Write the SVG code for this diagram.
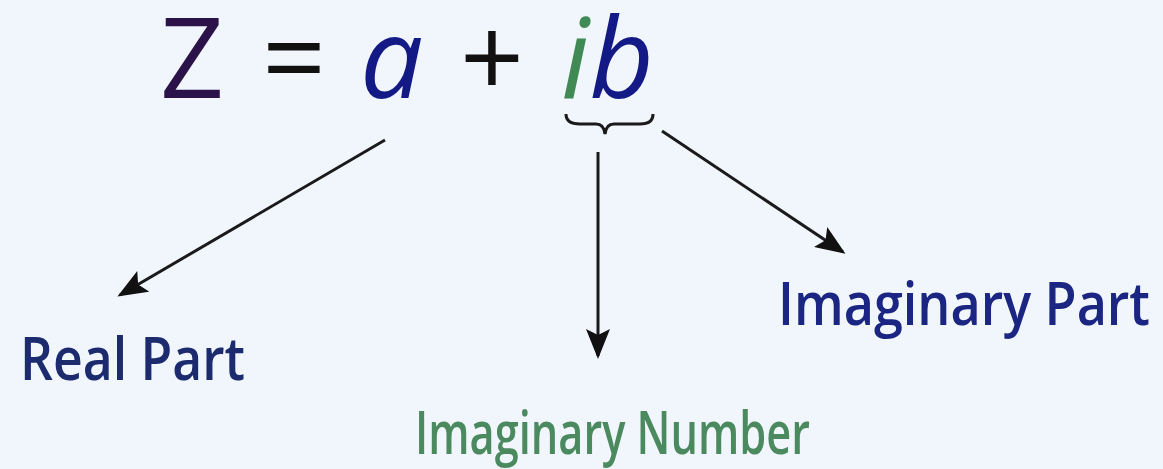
<svg xmlns="http://www.w3.org/2000/svg" width="1163" height="469" viewBox="0 0 1163 469">
<style>
.t{font-family:"Open Sans","Noto Sans",sans-serif}
.big{font-size:112px;font-weight:500}
.it{font-style:italic}
.lbl{font-size:60px;font-weight:600}
.ln{stroke:#1a1a1a;stroke-width:3;fill:none}
</style>
<defs>
<marker id="ahb" viewBox="0 0 10 10" refX="9" refY="5" markerWidth="30" markerHeight="24" markerUnits="userSpaceOnUse" orient="auto" preserveAspectRatio="none">
<path d="M0,0 L10,5 L0,10 L2,5 Z" fill="#111"/>
</marker>
</defs>
<rect width="1163" height="469" fill="#f1f6fc"/>
<g id="equation">
<text class="t big" x="160" y="98" fill="#2b1248">Z</text>
<text class="t big" x="262" y="98" fill="#111">=</text>
<text class="t big it" x="360" y="98" fill="#131a86">a</text>
<text class="t big" x="460" y="98" fill="#111">+</text>
<text class="t big it" x="561" y="98"><tspan fill="#3f8a55">i</tspan><tspan fill="#131a86">b</tspan></text>
</g>
<g id="brace">
<path class="ln" stroke-width="4" d="M566,114 Q566,124 580,124 L596,124 Q604,124 605,134 Q606,124 614,124 L640,124 Q653,124 653,114"/>
</g>
<g id="connectors">
<line class="ln" x1="385" y1="140" x2="120" y2="295" marker-end="url(#ahb)"/>
<line class="ln" x1="598" y1="152" x2="598" y2="356" marker-end="url(#ahb)"/>
<line class="ln" x1="662" y1="131" x2="843" y2="252" marker-end="url(#ahb)"/>
</g>
<g id="real-part">
<text class="t lbl" x="20" y="380" fill="#1c2a6e" textLength="225" lengthAdjust="spacingAndGlyphs">Real Part</text>
</g>
<g id="imaginary-number">
<text class="t lbl" x="415" y="454" fill="#4b8a5f" textLength="395" lengthAdjust="spacingAndGlyphs">Imaginary Number</text>
</g>
<g id="imaginary-part">
<text class="t lbl" x="778" y="325" fill="#1b2582" textLength="372" lengthAdjust="spacingAndGlyphs">Imaginary Part</text>
</g>
</svg>
